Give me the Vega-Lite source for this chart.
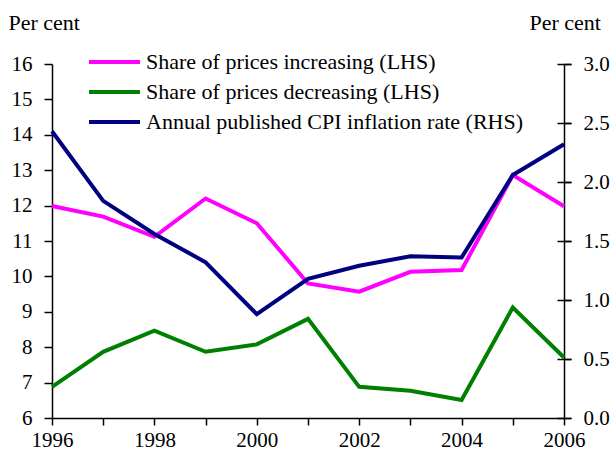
{
  "$schema": "https://vega.github.io/schema/vega-lite/v6.json",
  "width": 512,
  "height": 354,
  "autosize": {"type": "none"},
  "padding": {"left": 52, "top": 64, "right": 49, "bottom": 34},
  "background": "white",
  "config": {
    "view": {"stroke": null},
    "font": "Liberation Serif, Times New Roman, serif",
    "axis": {
      "labelFont": "Liberation Serif, Times New Roman, serif",
      "labelFontSize": 21,
      "labelColor": "black",
      "domainColor": "black",
      "domainWidth": 1.5,
      "tickColor": "black",
      "tickWidth": 1.5,
      "grid": false,
      "titleFont": "Liberation Serif, Times New Roman, serif",
      "titleFontSize": 22,
      "titleFontWeight": "normal",
      "titleColor": "black"
    },
    "legend": {
      "labelFont": "Liberation Serif, Times New Roman, serif",
      "labelFontSize": 22,
      "labelColor": "black",
      "labelLimit": 0,
      "padding": 0
    }
  },
  "data": {
    "values": [
      {"series": "Share of prices increasing (LHS)", "side": "LHS", "year": 1996, "value": 11.99},
      {"series": "Share of prices increasing (LHS)", "side": "LHS", "year": 1997, "value": 11.69},
      {"series": "Share of prices increasing (LHS)", "side": "LHS", "year": 1998, "value": 11.12},
      {"series": "Share of prices increasing (LHS)", "side": "LHS", "year": 1999, "value": 12.2},
      {"series": "Share of prices increasing (LHS)", "side": "LHS", "year": 2000, "value": 11.5},
      {"series": "Share of prices increasing (LHS)", "side": "LHS", "year": 2001, "value": 9.8},
      {"series": "Share of prices increasing (LHS)", "side": "LHS", "year": 2002, "value": 9.57},
      {"series": "Share of prices increasing (LHS)", "side": "LHS", "year": 2003, "value": 10.13},
      {"series": "Share of prices increasing (LHS)", "side": "LHS", "year": 2004, "value": 10.18},
      {"series": "Share of prices increasing (LHS)", "side": "LHS", "year": 2005, "value": 12.86},
      {"series": "Share of prices increasing (LHS)", "side": "LHS", "year": 2006, "value": 11.98},
      {"series": "Share of prices decreasing (LHS)", "side": "LHS", "year": 1996, "value": 6.88},
      {"series": "Share of prices decreasing (LHS)", "side": "LHS", "year": 1997, "value": 7.87},
      {"series": "Share of prices decreasing (LHS)", "side": "LHS", "year": 1998, "value": 8.47},
      {"series": "Share of prices decreasing (LHS)", "side": "LHS", "year": 1999, "value": 7.87},
      {"series": "Share of prices decreasing (LHS)", "side": "LHS", "year": 2000, "value": 8.08},
      {"series": "Share of prices decreasing (LHS)", "side": "LHS", "year": 2001, "value": 8.8},
      {"series": "Share of prices decreasing (LHS)", "side": "LHS", "year": 2002, "value": 6.88},
      {"series": "Share of prices decreasing (LHS)", "side": "LHS", "year": 2003, "value": 6.77},
      {"series": "Share of prices decreasing (LHS)", "side": "LHS", "year": 2004, "value": 6.51},
      {"series": "Share of prices decreasing (LHS)", "side": "LHS", "year": 2005, "value": 9.12},
      {"series": "Share of prices decreasing (LHS)", "side": "LHS", "year": 2006, "value": 7.71},
      {"series": "Annual published CPI inflation rate (RHS)", "side": "RHS", "year": 1996, "value": 2.43},
      {"series": "Annual published CPI inflation rate (RHS)", "side": "RHS", "year": 1997, "value": 1.84},
      {"series": "Annual published CPI inflation rate (RHS)", "side": "RHS", "year": 1998, "value": 1.56},
      {"series": "Annual published CPI inflation rate (RHS)", "side": "RHS", "year": 1999, "value": 1.32},
      {"series": "Annual published CPI inflation rate (RHS)", "side": "RHS", "year": 2000, "value": 0.88},
      {"series": "Annual published CPI inflation rate (RHS)", "side": "RHS", "year": 2001, "value": 1.18},
      {"series": "Annual published CPI inflation rate (RHS)", "side": "RHS", "year": 2002, "value": 1.29},
      {"series": "Annual published CPI inflation rate (RHS)", "side": "RHS", "year": 2003, "value": 1.37},
      {"series": "Annual published CPI inflation rate (RHS)", "side": "RHS", "year": 2004, "value": 1.36},
      {"series": "Annual published CPI inflation rate (RHS)", "side": "RHS", "year": 2005, "value": 2.06},
      {"series": "Annual published CPI inflation rate (RHS)", "side": "RHS", "year": 2006, "value": 2.32}
    ]
  },
  "layer": [
    {
      "transform": [{"filter": "datum.side == 'LHS'"}],
      "mark": {"type": "line", "strokeWidth": 4},
      "encoding": {
        "x": {
          "field": "year", "type": "quantitative",
          "scale": {"domain": [1996, 2006], "nice": false, "zero": false},
          "axis": {
            "title": null,
            "values": [1996, 1997, 1998, 1999, 2000, 2001, 2002, 2003, 2004, 2005, 2006],
            "format": "d",
            "labelExpr": "datum.value % 2 == 0 ? datum.label : ''",
            "tickSize": 7,
            "labelPadding": 4,
            "labelFlush": false,
            "labelOverlap": false
          }
        },
        "y": {
          "field": "value", "type": "quantitative",
          "scale": {"domain": [6, 16], "nice": false, "zero": false},
          "axis": {
            "orient": "left",
            "values": [6, 7, 8, 9, 10, 11, 12, 13, 14, 15, 16],
            "tickSize": 8,
            "labelPadding": 12,
            "title": "Per cent",
            "titleAngle": 0,
            "titleAlign": "left",
            "titleBaseline": "middle",
            "titleX": -44,
            "titleY": -42
          }
        },
        "color": {
          "field": "series", "type": "nominal",
          "scale": {
            "domain": ["Share of prices increasing (LHS)", "Share of prices decreasing (LHS)", "Annual published CPI inflation rate (RHS)"],
            "range": ["#ff00ff", "#008000", "#000080"]
          },
          "legend": {
            "title": null,
            "orient": "none",
            "legendX": 47.5,
            "legendY": -17,
            "symbolType": "M-2,0H2",
            "symbolSize": 650,
            "symbolStrokeWidth": 4,
            "symbolFillColor": "transparent",
            "rowPadding": 4,
            "labelOffset": 16.5,
            "labelLimit": 0
          }
        }
      }
    },
    {
      "transform": [{"filter": "datum.side == 'RHS'"}],
      "mark": {"type": "line", "strokeWidth": 4},
      "encoding": {
        "x": {"field": "year", "type": "quantitative"},
        "y": {
          "field": "value", "type": "quantitative",
          "scale": {"domain": [0, 3], "nice": false, "zero": false},
          "axis": {
            "orient": "right",
            "values": [0, 0.5, 1, 1.5, 2, 2.5, 3],
            "format": ".1f",
            "tickSize": 7,
            "labelPadding": 12,
            "title": "Per cent",
            "titleAngle": 0,
            "titleAlign": "left",
            "titleBaseline": "middle",
            "titleX": -35,
            "titleY": -42
          }
        },
        "color": {"field": "series", "type": "nominal"}
      }
    },
    {
      "transform": [{"filter": "datum.side == 'RHS'"}],
      "mark": {"type": "point", "opacity": 0},
      "encoding": {
        "x": {"field": "year", "type": "quantitative"},
        "y": {
          "field": "value", "type": "quantitative",
          "scale": {"domain": [0, 3], "nice": false, "zero": false},
          "axis": {
            "orient": "right",
            "values": [0, 0.5, 1, 1.5, 2, 2.5, 3],
            "offset": -7,
            "tickSize": 14,
            "domain": false,
            "labels": false,
            "title": null
          }
        }
      }
    }
  ],
  "resolve": {"scale": {"y": "independent"}}
}
